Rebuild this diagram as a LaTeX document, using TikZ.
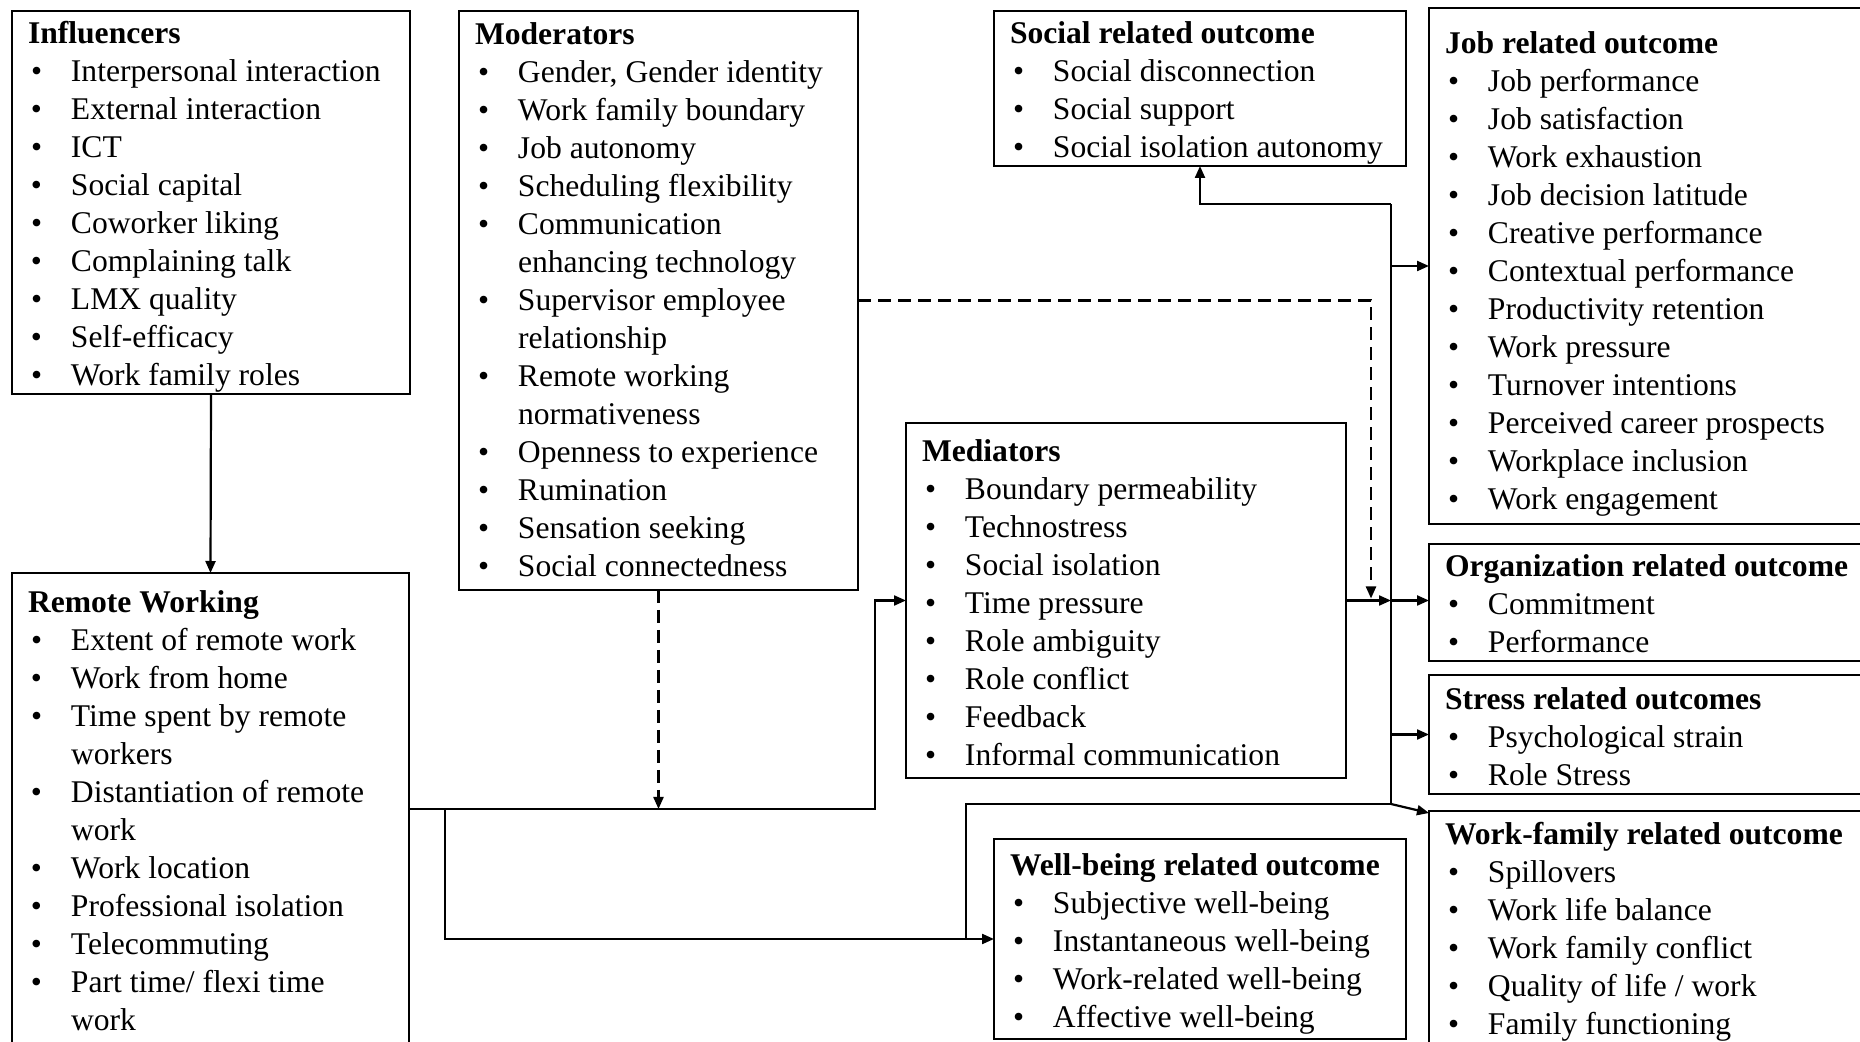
\documentclass[tikz,border=0pt]{standalone}
\usepackage{fontspec}
\setmainfont{Liberation Serif}
\usetikzlibrary{arrows.meta,calc}

\newcommand\bx[4]{\begin{minipage}[t][\dimexpr#2pt/2\relax][t]{\dimexpr#1pt/2\relax}\fontsize{15.8pt}{19pt}\selectfont\vspace*{\dimexpr#3pt/2\relax}#4\end{minipage}}
\newcommand\hd[1]{\par\noindent\hspace*{8pt}\textbf{#1}\strut\par}
\newcommand\bl[1]{\par\noindent\hangindent=29.5pt\hangafter=1\relax\makebox[29.5pt][l]{\hspace*{9.5pt}\textbullet}#1\strut\par}

\tikzset{
  box/.style={draw, line width=1.3pt, inner sep=0pt, outer sep=0pt, anchor=north west},
  conn/.style={line width=1.1pt},
  arr/.style={conn, -{Triangle[length=6pt,width=5pt]}},
  darr/.style={arr, dash pattern=on 6.5pt off 3.5pt}
}

\begin{document}
\begin{tikzpicture}[x=0.5pt,y=-0.5pt]
\clip (0,0) rectangle (1860,1042);
\fill[white] (0,0) rectangle (1860,1042);

\node[box] (infl) at (12,11) {\bx{398}{383}{5.5}{\hd{Influencers}
\bl{Interpersonal interaction}\bl{External interaction}\bl{ICT}\bl{Social capital}\bl{Coworker liking}\bl{Complaining talk}\bl{LMX quality}\bl{Self-efficacy}\bl{Work family roles}}};

\node[box] (mod) at (459,11) {\bx{399}{579}{7}{\hd{Moderators}
\bl{Gender, Gender identity}\bl{Work family boundary}\bl{Job autonomy}\bl{Scheduling flexibility}\bl{Communication\\enhancing technology}\bl{Supervisor employee\\relationship}\bl{Remote working\\normativeness}\bl{Openness to experience}\bl{Rumination}\bl{Sensation seeking}\bl{Social connectedness}}};

\node[box] (soc) at (994,11) {\bx{412}{155}{5.5}{\hd{Social related outcome}
\bl{Social disconnection}\bl{Social support}\bl{Social isolation autonomy}}};

\node[box] (job) at (1429,8) {\bx{460}{516}{18.5}{\hd{Job related outcome}
\bl{Job performance}\bl{Job satisfaction}\bl{Work exhaustion}\bl{Job decision latitude}\bl{Creative performance}\bl{Contextual performance}\bl{Productivity retention}\bl{Work pressure}\bl{Turnover intentions}\bl{Perceived career prospects}\bl{Workplace inclusion}\bl{Work engagement}}};

\node[box] (med) at (906,423) {\bx{440}{355}{12.4}{\hd{Mediators}
\bl{Boundary permeability}\bl{Technostress}\bl{Social isolation}\bl{Time pressure}\bl{Role ambiguity}\bl{Role conflict}\bl{Feedback}\bl{Informal communication}}};

\node[box] (org) at (1429,544) {\bx{460}{117}{6.4}{\hd{Organization related outcome}
\bl{Commitment}\bl{Performance}}};

\node[box] (str) at (1429,675) {\bx{460}{119}{8.2}{\hd{Stress related outcomes}
\bl{Psychological strain}\bl{Role Stress}}};

\node[box] (wf) at (1429,811) {\bx{460}{260}{6.7}{\hd{Work-family related outcome}
\bl{Spillovers}\bl{Work life balance}\bl{Work family conflict}\bl{Quality of life / work}\bl{Family functioning}}};

\node[box] (well) at (994,839) {\bx{412}{200}{10.2}{\hd{Well-being related outcome}
\bl{Subjective well-being}\bl{Instantaneous well-being}\bl{Work-related well-being}\bl{Affective well-being}}};

\node[box] (rem) at (12,573) {\bx{397}{500}{13}{\hd{Remote Working}
\bl{Extent of remote work}\bl{Work from home}\bl{Time spent by remote\\workers}\bl{Distantiation of remote\\work}\bl{Work location}\bl{Professional isolation}\bl{Telecommuting}\bl{Part time/ flexi time\\work}}};

% junction coordinates
\coordinate (b1) at (445,809);
\coordinate (b2) at (875,809);
\coordinate (b3) at (966,939);
\coordinate (jtop) at (1391,204);
\coordinate (jbot) at (1391,804);
\coordinate (dx) at (1371,299);

% connectors
\draw[arr] (infl.south) -- (rem.north);
\draw[arr] (rem.north east |- b1) -- (b2) |- (med.west);
\draw[darr] (mod.south) -- (mod.south |- b1);
\draw[arr] (b1) |- (well.west);
\draw[conn] (b3) |- (jbot);
\draw[conn] (jbot) -- (jtop);
\draw[arr] (jtop) -| (soc.south);
\draw[arr] (jtop |- job.west) -- (job.west);
\draw[arr] (med.east) -- (med.east -| jtop);
\draw[arr] (med.east -| jtop) -- (org.west |- med.east);
\draw[arr] (jtop |- str.west) -- (str.west);
\draw[arr] (jbot) -- ([yshift=-1pt]wf.north west);
\draw[darr] (mod.east) -| ([yshift=1pt]dx |- med.east);
\end{tikzpicture}
\end{document}
